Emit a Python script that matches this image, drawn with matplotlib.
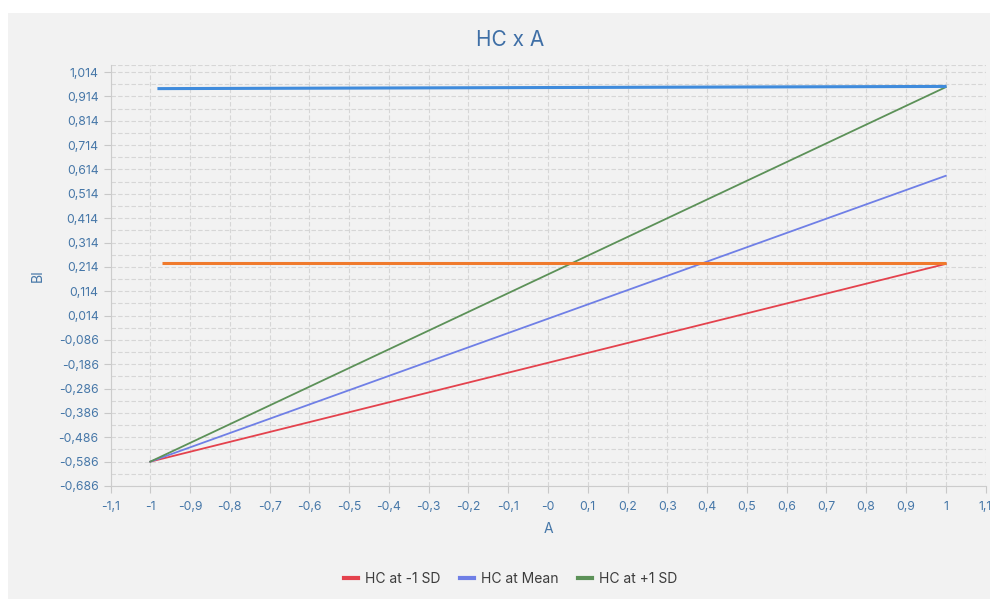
import matplotlib.pyplot as plt
from matplotlib.patches import Rectangle

# Datos
x_extremos = [-1, 1]
hc_menos_1sd = [-0.586, 0.226]
hc_media = [-0.586, 0.588]
hc_mas_1sd = [-0.586, 0.952]

# Lineas horizontales añadidas encima
linea_azul_x = [-0.982, 1.002]
linea_azul_y = [0.946, 0.955]
linea_naranja_x = [-0.97, 1.0]
linea_naranja_y = [0.228, 0.228]

xticks = [-1.1, -1, -0.9, -0.8, -0.7, -0.6, -0.5, -0.4, -0.3, -0.2, -0.1, 0,
          0.1, 0.2, 0.3, 0.4, 0.5, 0.6, 0.7, 0.8, 0.9, 1, 1.1]
xtick_labels = ['-1,1', '-1', '-0,9', '-0,8', '-0,7', '-0,6', '-0,5', '-0,4', '-0,3',
                '-0,2', '-0,1', '-0', '0,1', '0,2', '0,3', '0,4', '0,5', '0,6', '0,7',
                '0,8', '0,9', '1', '1,1']
yticks = [-0.686, -0.586, -0.486, -0.386, -0.286, -0.186, -0.086, 0.014, 0.114,
          0.214, 0.314, 0.414, 0.514, 0.614, 0.714, 0.814, 0.914, 1.014]
ytick_labels = ['-0,686', '-0,586', '-0,486', '-0,386', '-0,286', '-0,186', '-0,086',
                '0,014', '0,114', '0,214', '0,314', '0,414', '0,514', '0,614',
                '0,714', '0,814', '0,914', '1,014']

COLOR_TEXTO = '#4677a8'

plt.rcParams['font.family'] = ['Inter', 'DejaVu Sans']

fig = plt.figure(figsize=(9.9, 5.99), dpi=100)
fig.patch.set_facecolor('white')
# panel gris de fondo
fig.patches.append(Rectangle((8 / 990, 0), 1, 1 - 13 / 599, transform=fig.transFigure,
                             facecolor='#f2f2f2', edgecolor='none', zorder=-10))

ax = fig.add_axes([110.5 / 990, 1 - 486 / 599, 875 / 990, (486 - 65) / 599])
ax.set_facecolor('#f2f2f2')

ax.plot(x_extremos, hc_menos_1sd, color='#e4424d', lw=1.3, label='HC at -1 SD')
ax.plot(x_extremos, hc_media, color='#6f7fe6', lw=1.3, label='HC at Mean')
ax.plot(x_extremos, hc_mas_1sd, color='#5c9158', lw=1.3, label='HC at +1 SD')
ax.plot(linea_azul_x, linea_azul_y, color='#3f8bdc', lw=2.2, solid_capstyle='butt')
ax.plot(linea_naranja_x, linea_naranja_y, color='#f07a2c', lw=2.2, solid_capstyle='butt')

ax.set_xlim(-1.1, 1.1)
ax.set_ylim(-0.686, 1.043)
ax.set_xticks(xticks)
ax.set_xticklabels(xtick_labels)
ax.set_yticks(yticks)
ax.set_yticklabels(ytick_labels)
ax.set_yticks([v + 0.05 for v in yticks[:-1]] + [1.043], minor=True)

ax.grid(True, which='major', color='#d6d6d6', ls=(0, (4, 2)), lw=0.8)
ax.grid(True, which='minor', axis='y', color='#d6d6d6', ls=(0, (4, 2)), lw=0.8)
ax.tick_params(axis='both', which='major', colors='#c8c8c8', labelcolor=COLOR_TEXTO,
               labelsize=8.8, length=5)
ax.tick_params(axis='both', which='minor', length=0)
ax.tick_params(axis='x', pad=6)
for lado in ['top', 'right']:
    ax.spines[lado].set_visible(False)
for lado in ['left', 'bottom']:
    ax.spines[lado].set_color('#cccccc')

ax.set_xlabel('A', color=COLOR_TEXTO, fontsize=10, labelpad=6)
ax.set_ylabel('BI', color=COLOR_TEXTO, fontsize=10, labelpad=10)
fig.text(0.515, 1 - 40 / 599, 'HC x A', color='#3f6fa6', fontsize=15,
         ha='center', va='center')

leg = fig.legend(loc='center', bbox_to_anchor=(0.516, 1 - 579 / 599), ncol=3,
                 frameon=False, fontsize=10, handlelength=1.0, handletextpad=0.5,
                 columnspacing=1.4)
for linea in leg.get_lines():
    linea.set_linewidth(3)
for t in leg.get_texts():
    t.set_color('#3c3c3c')

fig.savefig('out.png', dpi=100, facecolor=fig.get_facecolor())
